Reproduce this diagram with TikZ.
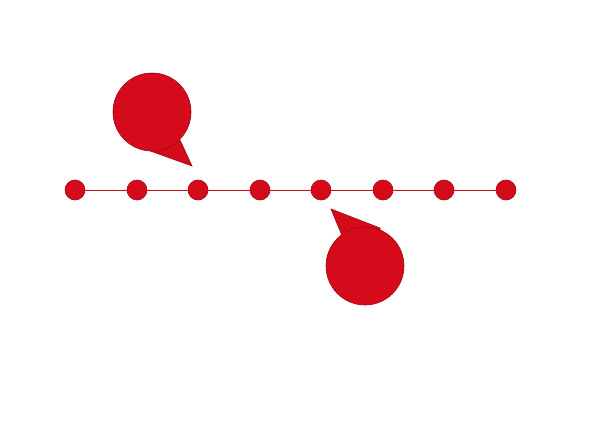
\documentclass[tikz,border=0pt]{standalone}
\begin{document}
\begin{tikzpicture}[x=1pt,y=-1pt]
\definecolor{redfill}{HTML}{D50A1A}
\definecolor{redline}{HTML}{9E0A14}
\tikzset{
  dotnode/.style={circle,minimum size=20pt,inner sep=0pt,fill=redfill,draw=redline,line width=0.6pt},
  bubble/.style={circle,minimum size=78pt,inner sep=0pt,fill=redfill,draw=redline,line width=0.6pt},
  pointer/.style={fill=redfill,draw=redline,line width=0.6pt,line join=miter},
  track/.style={draw=redfill,line width=0.6pt}
}
\useasboundingbox (0,0) rectangle (598,434);
\foreach \i/\x in {1/75,2/137,3/198,4/260,5/321,6/383,7/444,8/506}{
  \node[dotnode] (d\i) at (\x,190) {};
}
\draw[track] (d1) -- (d2) -- (d3) -- (d4) -- (d5) -- (d6) -- (d7) -- (d8);
% bubble 1
\coordinate (t1) at (192,166);
\draw[pointer] (146,145) -- (149,150.5) -- (t1) -- (180.5,141) -- (176,135) -- cycle;
\node[bubble] (c1) at (152,112) {};
% bubble 2
\coordinate (t2) at (331,209);
\draw[pointer] (346,238) -- (341.5,234.5) -- (t2) -- (380,228) -- (380,235) -- cycle;
\node[bubble] (c2) at (365,266) {};
\end{tikzpicture}
\end{document}
